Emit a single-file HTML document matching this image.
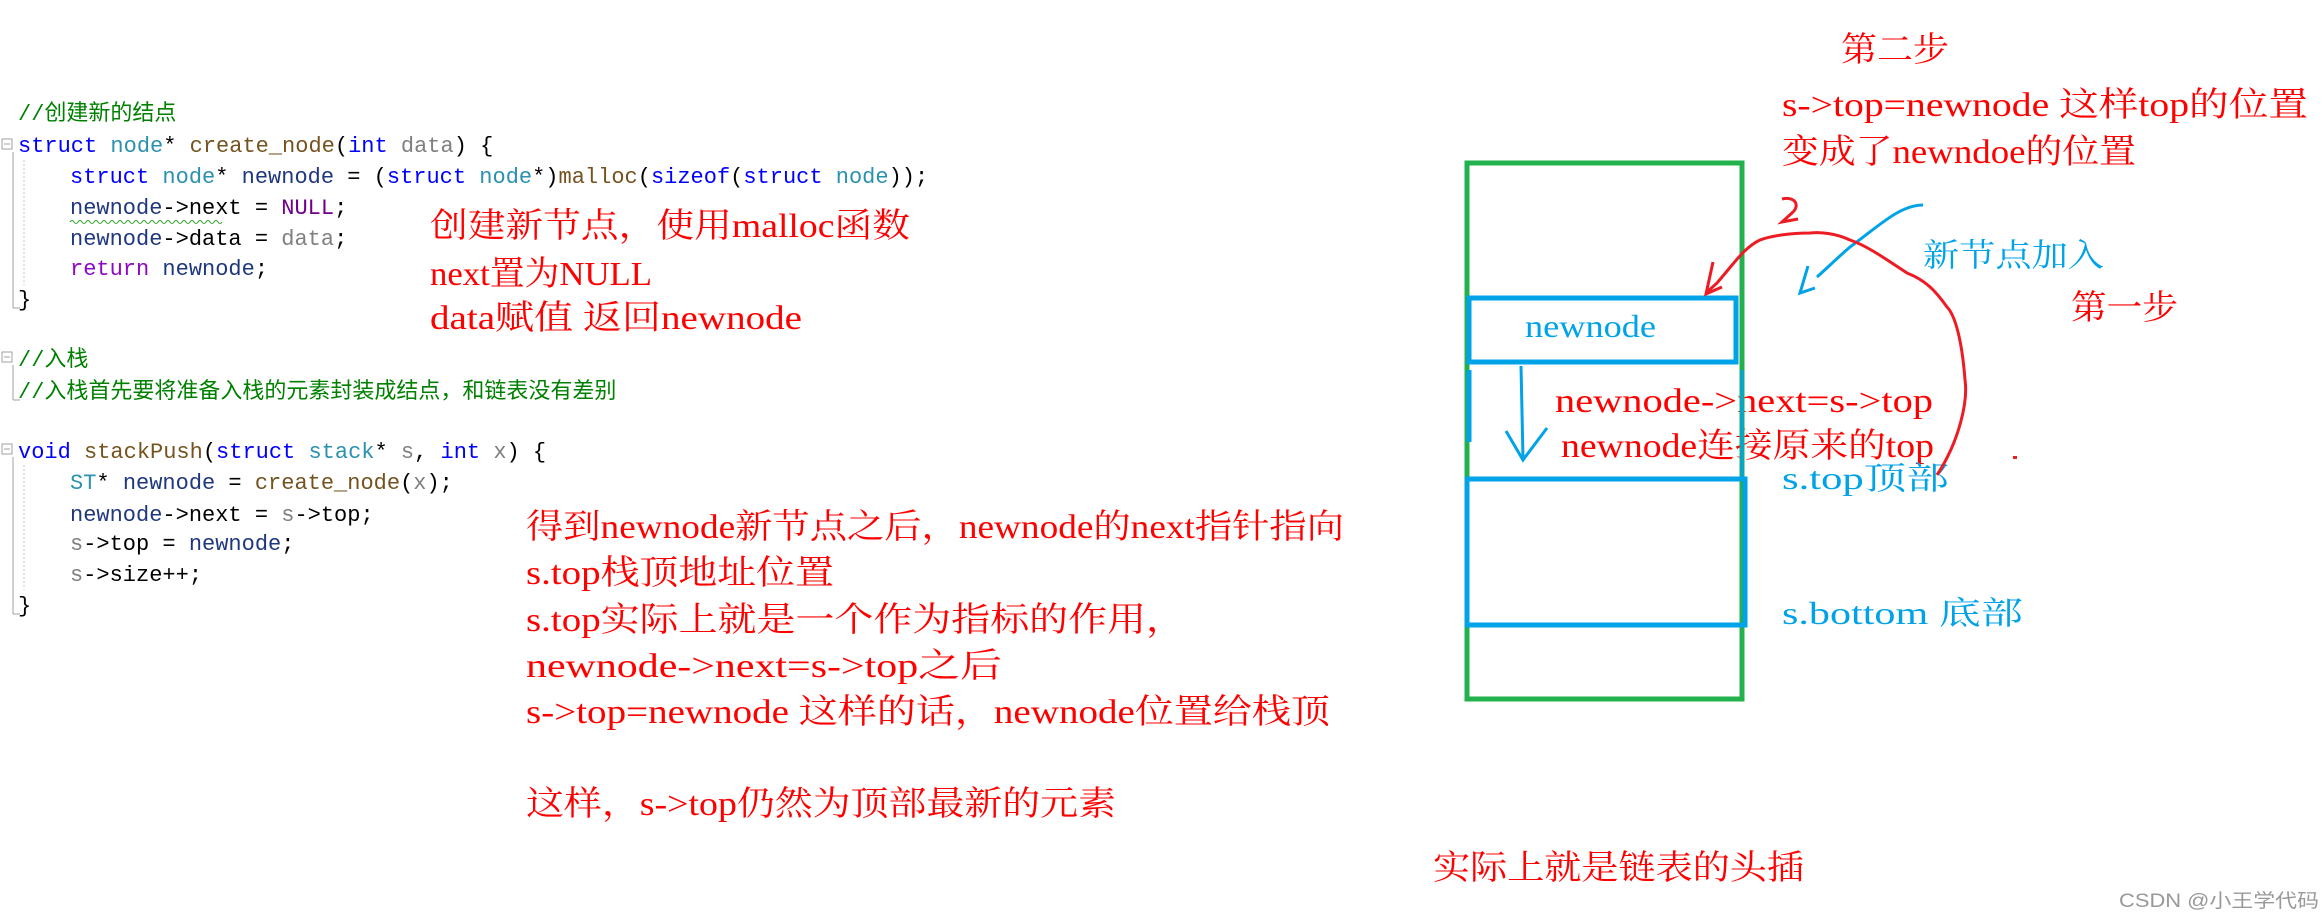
<!DOCTYPE html>
<html><head><meta charset="utf-8"><style>
html,body{margin:0;padding:0;background:#fff;}
svg{display:block;}
.c{font-family:"Liberation Mono","Noto Sans CJK SC",monospace;font-size:22px;white-space:pre;}
.r{font-family:"Liberation Serif","Noto Serif CJK SC",serif;font-size:34px;fill:#ff0000;white-space:pre;}
.b{font-family:"Liberation Serif","Noto Serif CJK SC",serif;font-size:32px;fill:#00a2e8;white-space:pre;}
.kw{fill:#0000ff}.ty{fill:#2b91af}.fn{fill:#74531f}.pa{fill:#808080}.lv{fill:#1f377f}.mc{fill:#6f008a}.rt{fill:#8f08c4}.cm{fill:#008000}.pl{fill:#000}
</style></head><body>
<svg width="2323" height="921" viewBox="0 0 2323 921" xmlns="http://www.w3.org/2000/svg">
<g stroke="#a0a0a0" stroke-width="1" fill="none">
<rect x="2" y="139" width="10" height="10"/><line x1="4" y1="144" x2="10" y2="144"/>
<line x1="13" y1="152" x2="13" y2="308"/><line x1="13" y1="308" x2="20" y2="308"/>
<rect x="2" y="352" width="10" height="10"/><line x1="4" y1="357" x2="10" y2="357"/>
<line x1="13" y1="365" x2="13" y2="400"/><line x1="13" y1="400" x2="20" y2="400"/>
<rect x="2" y="444" width="10" height="10"/><line x1="4" y1="449" x2="10" y2="449"/>
<line x1="13" y1="457" x2="13" y2="614"/><line x1="13" y1="614" x2="20" y2="614"/>
</g>
<g stroke="#c8c8c8" stroke-width="1" stroke-dasharray="2,2">
<line x1="24" y1="160" x2="24" y2="285"/><line x1="24" y1="465" x2="24" y2="590"/>
</g>
<g class="c">
<text x="18" y="120" class="cm">//创建新的结点</text>
<text x="18" y="152"><tspan class="kw">struct</tspan><tspan class="pl"> </tspan><tspan class="ty">node</tspan><tspan class="pl">* </tspan><tspan class="fn">create_node</tspan><tspan class="pl">(</tspan><tspan class="kw">int</tspan><tspan class="pl"> </tspan><tspan class="pa">data</tspan><tspan class="pl">) {</tspan></text>
<text x="70" y="183"><tspan class="kw">struct</tspan><tspan class="pl"> </tspan><tspan class="ty">node</tspan><tspan class="pl">* </tspan><tspan class="lv">newnode</tspan><tspan class="pl"> = (</tspan><tspan class="kw">struct</tspan><tspan class="pl"> </tspan><tspan class="ty">node</tspan><tspan class="pl">*)</tspan><tspan class="fn">malloc</tspan><tspan class="pl">(</tspan><tspan class="kw">sizeof</tspan><tspan class="pl">(</tspan><tspan class="kw">struct</tspan><tspan class="pl"> </tspan><tspan class="ty">node</tspan><tspan class="pl">));</tspan></text>
<text x="70" y="214"><tspan class="lv">newnode</tspan><tspan class="pl">-&gt;next = </tspan><tspan class="mc">NULL</tspan><tspan class="pl">;</tspan></text>
<text x="70" y="245"><tspan class="lv">newnode</tspan><tspan class="pl">-&gt;data = </tspan><tspan class="pa">data</tspan><tspan class="pl">;</tspan></text>
<text x="70" y="275"><tspan class="rt">return</tspan><tspan class="pl"> </tspan><tspan class="lv">newnode</tspan><tspan class="pl">;</tspan></text>
<text x="18" y="306" class="pl">}</text>
<text x="18" y="366" class="cm">//入栈</text>
<text x="18" y="398" class="cm">//入栈首先要将准备入栈的元素封装成结点，和链表没有差别</text>
<text x="18" y="458"><tspan class="kw">void</tspan><tspan class="pl"> </tspan><tspan class="fn">stackPush</tspan><tspan class="pl">(</tspan><tspan class="kw">struct</tspan><tspan class="pl"> </tspan><tspan class="ty">stack</tspan><tspan class="pl">* </tspan><tspan class="pa">s</tspan><tspan class="pl">, </tspan><tspan class="kw">int</tspan><tspan class="pl"> </tspan><tspan class="pa">x</tspan><tspan class="pl">) {</tspan></text>
<text x="70" y="489"><tspan class="ty">ST</tspan><tspan class="pl">* </tspan><tspan class="lv">newnode</tspan><tspan class="pl"> = </tspan><tspan class="fn">create_node</tspan><tspan class="pl">(</tspan><tspan class="pa">x</tspan><tspan class="pl">);</tspan></text>
<text x="70" y="521"><tspan class="lv">newnode</tspan><tspan class="pl">-&gt;next = </tspan><tspan class="pa">s</tspan><tspan class="pl">-&gt;top;</tspan></text>
<text x="70" y="550"><tspan class="pa">s</tspan><tspan class="pl">-&gt;top = </tspan><tspan class="lv">newnode</tspan><tspan class="pl">;</tspan></text>
<text x="70" y="581"><tspan class="pa">s</tspan><tspan class="pl">-&gt;size++;</tspan></text>
<text x="18" y="612" class="pl">}</text>
</g>
<path d="M70 222 q2 -3 4 0 t4 0 t4 0 t4 0 t4 0 t4 0 t4 0 t4 0 t4 0 t4 0 t4 0 t4 0 t4 0 t4 0 t4 0 t4 0 t4 0 t4 0 t4 0 t4 0 t4 0 t4 0 t4 0 t4 0 t4 0 t4 0 t4 0 t4 0 t4 0 t4 0 t4 0 t4 0 t4 0 t4 0 t4 0 t4 0 t4 0 t4 0" stroke="#30a030" stroke-width="1" fill="none"/>
<g class="r">
<text x="430" y="237" textLength="480" lengthAdjust="spacingAndGlyphs">创建新节点，使用malloc函数</text>
<text x="430" y="285" textLength="222" lengthAdjust="spacingAndGlyphs">next置为NULL</text>
<text x="430" y="329" textLength="372" lengthAdjust="spacingAndGlyphs">data赋值 返回newnode</text>
<text x="526" y="538" textLength="818" lengthAdjust="spacingAndGlyphs">得到newnode新节点之后，newnode的next指针指向</text>
<text x="526" y="584" textLength="308" lengthAdjust="spacingAndGlyphs">s.top栈顶地址位置</text>
<text x="526" y="631" textLength="659" lengthAdjust="spacingAndGlyphs">s.top实际上就是一个作为指标的作用，</text>
<text x="526" y="677" textLength="476" lengthAdjust="spacingAndGlyphs">newnode-&gt;next=s-&gt;top之后</text>
<text x="526" y="723" textLength="804" lengthAdjust="spacingAndGlyphs">s-&gt;top=newnode  这样的话，newnode位置给栈顶</text>
<text x="526" y="815" textLength="590" lengthAdjust="spacingAndGlyphs">这样，s-&gt;top仍然为顶部最新的元素</text>
<text x="1841" y="61" textLength="108" lengthAdjust="spacingAndGlyphs">第二步</text>
<text x="1782" y="116" textLength="526" lengthAdjust="spacingAndGlyphs">s-&gt;top=newnode 这样top的位置</text>
<text x="1782" y="163" textLength="354" lengthAdjust="spacingAndGlyphs">变成了newndoe的位置</text>
<text x="2071" y="319" textLength="107" lengthAdjust="spacingAndGlyphs">第一步</text>
<text x="1555" y="412" textLength="378" lengthAdjust="spacingAndGlyphs">newnode-&gt;next=s-&gt;top</text>
<text x="1561" y="457" textLength="373" lengthAdjust="spacingAndGlyphs">newnode连接原来的top</text>
<text x="1433" y="879" textLength="371" lengthAdjust="spacingAndGlyphs">实际上就是链表的头插</text>
</g>
<rect x="1467" y="163" width="275" height="536" fill="none" stroke="#22b14c" stroke-width="5"/>
<rect x="1469" y="298" width="267" height="64" fill="none" stroke="#00a2e8" stroke-width="5"/>
<rect x="1467" y="479" width="278" height="146" fill="none" stroke="#00a2e8" stroke-width="5"/>
<line x1="1469" y1="370" x2="1469" y2="442" stroke="#00a2e8" stroke-width="5"/>
<line x1="1742" y1="370" x2="1742" y2="478" stroke="#00a2e8" stroke-width="3"/>
<path d="M1521 366 L1523 458 M1506 431 L1523 460 L1547 428" stroke="#00a2e8" stroke-width="3" fill="none"/>
<g class="b">
<text x="1525" y="337" textLength="131" lengthAdjust="spacingAndGlyphs">newnode</text>
<text x="1923" y="266" textLength="181" lengthAdjust="spacingAndGlyphs">新节点加入</text>
<text x="1782" y="489" textLength="167" lengthAdjust="spacingAndGlyphs">s.top顶部</text>
<text x="1782" y="624" textLength="241" lengthAdjust="spacingAndGlyphs">s.bottom 底部</text>
</g>
<path d="M1923 205 C1900 205 1880 225 1850 247 C1835 260 1825 270 1817 277" stroke="#00a2e8" stroke-width="3" fill="none"/>
<path d="M1808 266 L1800 293 L1815 288" stroke="#00a2e8" stroke-width="3" fill="none"/>
<path d="M1937 475 C1960 440 1968 400 1965 380 C1962 340 1955 315 1947 307 C1935 290 1925 280 1907 273 C1880 255 1865 245 1850 240 C1835 233 1820 232 1810 233 C1790 233 1770 236 1760 240 C1745 247 1735 262 1717 283 L1706 293" stroke="#ed1c24" stroke-width="3" fill="none"/>
<path d="M1713 262 L1706 294 L1722 287" stroke="#ed1c24" stroke-width="3" fill="none"/>
<path d="M1782 199 C1795 196 1800 205 1793 212 L1782 222 L1798 219" stroke="#ed1c24" stroke-width="3" fill="none"/>
<rect x="2013" y="456" width="4" height="3" fill="#ed1c24"/>
<text x="2119" y="907" font-family="Liberation Sans, Noto Sans CJK SC, sans-serif" font-size="19" fill="#999" textLength="200" lengthAdjust="spacingAndGlyphs">CSDN @小王学代码</text>
</svg>
</body></html>
